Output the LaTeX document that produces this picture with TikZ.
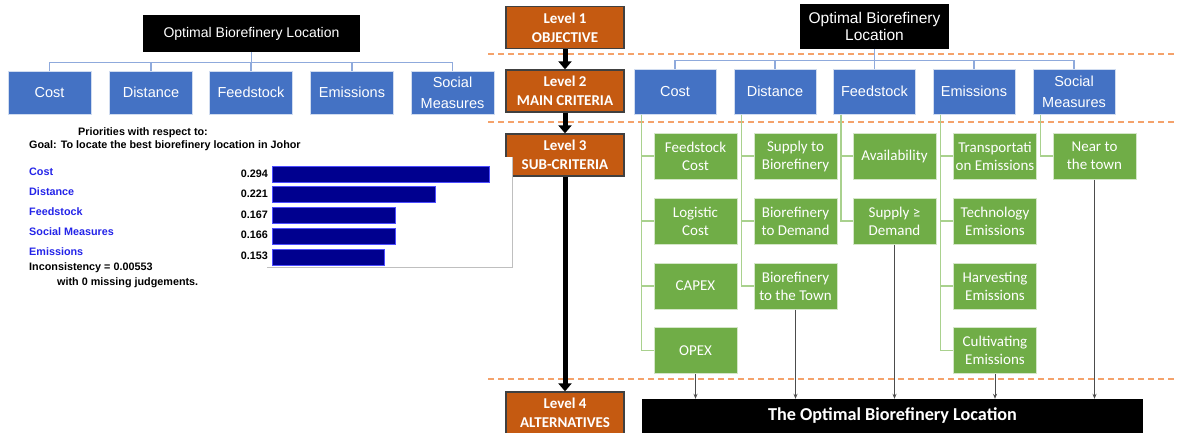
\documentclass[tikz,border=0pt]{standalone}
\usepackage{fontspec}
\setmainfont{Liberation Sans}
\newfontfamily\carlito{Carlito}
\usetikzlibrary{arrows.meta}
\definecolor{critblue}{HTML}{4472C4}
\definecolor{subgreen}{HTML}{70AD47}
\definecolor{lvlorange}{HTML}{C55A11}
\definecolor{treeblue}{HTML}{8FAADC}
\definecolor{treegreen}{HTML}{A9D18E}
\definecolor{dashorange}{HTML}{F4A26B}
\definecolor{barnavy}{HTML}{00008F}
\definecolor{labelblue}{HTML}{2424E8}
\tikzset{
  goalbox/.style={fill=black, text=white, align=center, inner sep=0pt, font=\fontsize{14}{17}\selectfont},
  critbox/.style={fill=critblue, draw=critblue!25, line width=1pt, text=white, align=center, minimum width=82pt, minimum height=45pt, inner sep=0pt, font=\fontsize{14.5}{21}\selectfont},
  subbox/.style={fill=subgreen, draw=subgreen!30, line width=1pt, text=white, align=center, minimum width=83pt, minimum height=46pt, inner sep=0pt, font=\carlito\fontsize{15}{18}\selectfont},
  levelbox/.style={fill=lvlorange, draw=black!75, line width=1.3pt, text=white, align=center, minimum width=118pt, minimum height=42pt, inner sep=0pt, font=\carlito\bfseries\fontsize{15}{19}\selectfont},
  levelarrow/.style={line width=5pt, -{Triangle[length=8pt,width=13pt]}},
  subarrow/.style={draw=black!70, line width=0.8pt, -{Stealth[length=5pt,width=4pt]}},
  levelline/.style={dashorange, line width=1.6pt, dash pattern=on 6pt off 4pt},
  bar/.style={fill=barnavy, draw=blue!70!white, line width=0.6pt},
  charttext/.style={anchor=base west, inner sep=0pt, font=\bfseries\fontsize{10.8}{12}\selectfont},
  chartlabel/.style={charttext, text=labelblue}
}
\begin{document}
\begin{tikzpicture}[x=1pt, y=-1pt]
  \useasboundingbox (0,0) rectangle (1177,432);

  % albero a sinistra
  \node[goalbox, minimum width=217pt, minimum height=37pt] (lgoal) at (251.5,33.5) {Optimal Biorefinery Location};
  \foreach \n/\x/\t in {lcost/49.5/Cost, ldist/151/Distance, lfeed/251/Feedstock, lemis/352/Emissions, lsoc/452.5/{Social\\Measures}} {
    \node[critbox, minimum width=83pt, minimum height=43pt] (\n) at (\x,92.5) {\t};
    \draw[treeblue, line width=1.2pt] (lgoal.south) -- ++(0,10) -| (\n.north);
  }

  % linee dei livelli
  \draw[levelline] (488,54) -- (1177,54);
  \draw[levelline] (488,122) -- (1177,122);
  \draw[levelline] (488,379) -- (1177,379);

  % livelli
  \node[levelbox] (lv1) at (565,27.5) {Level 1\\OBJECTIVE};
  \node[levelbox] (lv2) at (565,91) {Level 2\\MAIN CRITERIA};
  \node[levelbox] (lv3) at (565,155) {Level 3\\SUB-CRITERIA};
  \node[levelbox] (lv4) at (565,413) {Level 4\\ALTERNATIVES};
  \draw[levelarrow] (lv1) -- (lv2);
  \draw[levelarrow] (lv2) -- (lv3);
  \draw[levelarrow] (lv3) -- (lv4);

  % grafico delle priorita
  \fill[white] (267,157) rectangle (512,267);
  \draw[black!25, line width=0.8pt] (512,157) -- (512,267) -- (267,267);
  \node[charttext, anchor=base] (ptitle) at (143,135) {Priorities with respect to:};
  \node[charttext] (pgoal) at (29,148) {Goal: To locate the best biorefinery location in Johor};
  \foreach \t/\v/\e [count=\i from 0] in {Cost/0.294/489, Distance/0.221/435, Feedstock/0.167/395, Social Measures/0.166/395, Emissions/0.153/384} {
    \node[chartlabel] (lab\i) at (29,175+20*\i) {\t};
    \node[charttext, anchor=base east] (val\i) at (268,177+20.5*\i) {\v};
    \draw[bar] (272,166+20.75*\i) rectangle (\e,182+20.75*\i);
  }
  \node[charttext] (incons) at (29,270) {Inconsistency = 0.00553};
  \node[charttext] (missing) at (57,285) {with 0 missing judgements.};

  % albero a destra
  \node[goalbox, minimum width=149pt, minimum height=45pt, font=\fontsize{15.5}{17}\selectfont] (rgoal) at (874.5,26.5) {Optimal Biorefinery\\Location};
  \foreach \n/\x/\t in {rcost/675/Cost, rdist/775/Distance, rfeed/874.5/Feedstock, remis/974/Emissions, rsoc/1074/{Social\\Measures}} {
    \node[critbox] (\n) at (\x,91.5) {\t};
    \draw[treeblue, line width=1.2pt] (rgoal.south) -- ++(0,11) -| (\n.north);
  }

  % sotto-criteri
  \foreach \n/\p/\x/\y/\t in {
      feedcost/rcost/695.5/156/{Feedstock\\Cost}, logcost/rcost/695.5/221/{Logistic\\Cost},
      capex/rcost/695.5/286/CAPEX, opex/rcost/695.5/350.5/OPEX,
      supbio/rdist/795.5/156/{Supply to\\Biorefinery}, biodem/rdist/795.5/221/{Biorefinery\\to Demand},
      biotown/rdist/795.5/286/{Biorefinery\\to the Town},
      avail/rfeed/894.5/156/Availability, supdem/rfeed/894.5/221/{Supply ≥\\Demand},
      transem/remis/995/156/{Transportati\\on Emissions}, techem/remis/995/221/{Technology\\Emissions},
      harvem/remis/995/286/{Harvesting\\Emissions}, cultem/remis/995/350.5/{Cultivating\\Emissions},
      neartown/rsoc/1094.5/156/{Near to\\the town}} {
    \draw[treegreen, line width=1.3pt] (\p.south west) ++(8,0) |- (\x-41.5,\y);
    \node[subbox] (\n) at (\x,\y) {\t};
  }

  % alternative
  \node[fill=black, text=white, minimum width=501pt, minimum height=34pt, inner sep=0pt,
    font=\carlito\bfseries\fontsize{18.2}{21}\selectfont] (final) at (892.5,416) {The Optimal Biorefinery Location};
  \foreach \n in {opex, biotown, supdem, cultem, neartown}
    \draw[subarrow] (\n.south) -- (\n.south |- final.north);
\end{tikzpicture}
\end{document}
